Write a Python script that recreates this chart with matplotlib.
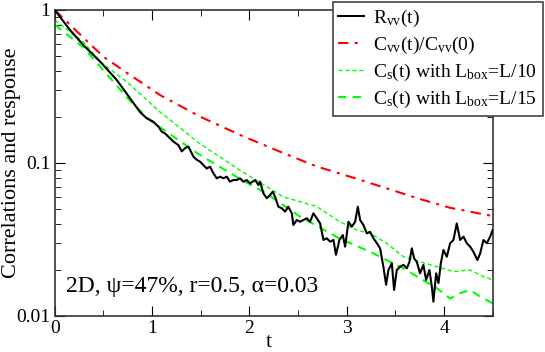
import matplotlib
matplotlib.use("Agg")
import matplotlib.pyplot as plt
from matplotlib.ticker import FixedLocator, LogLocator, NullFormatter

plt.rcParams['font.family'] = ['Liberation Serif', 'DejaVu Serif']
plt.rcParams['mathtext.fontset'] = 'custom'
plt.rcParams['mathtext.rm'] = 'Liberation Serif'
plt.rcParams['mathtext.default'] = 'rm'

# response R_vv(t), noisy
t_resp = [0.0, 0.157, 0.294, 0.466, 0.637, 0.774, 0.877, 0.945, 1.013, 1.065, 1.10, 1.134,
          1.185, 1.219, 1.27, 1.305, 1.339, 1.373, 1.39, 1.425, 1.459, 1.493, 1.527, 1.562,
          1.596, 1.63, 1.665, 1.699, 1.733, 1.768, 1.80, 1.836, 1.87, 1.904, 1.938, 1.973,
          2.007, 2.059, 2.093, 2.11, 2.144, 2.179, 2.213, 2.24, 2.264, 2.298, 2.333, 2.367,
          2.40, 2.436, 2.452, 2.487, 2.521, 2.555, 2.59, 2.624, 2.658, 2.693, 2.727, 2.761,
          2.795, 2.83, 2.864, 2.89, 2.925, 2.96, 2.984, 3.018, 3.052, 3.087, 3.114, 3.138,
          3.172, 3.207, 3.24, 3.275, 3.31, 3.343, 3.377, 3.405, 3.429, 3.464, 3.487, 3.515,
          3.549, 3.583, 3.618, 3.645, 3.669, 3.693, 3.72, 3.754, 3.788, 3.816, 3.85, 3.875,
          3.891, 3.919, 3.943, 3.967, 3.994, 4.029, 4.063, 4.097, 4.131, 4.165, 4.2, 4.234,
          4.268, 4.302, 4.343, 4.371, 4.405, 4.44, 4.474, 4.5]
r_resp = [1.0, 0.74, 0.59, 0.46, 0.349, 0.265, 0.215, 0.196, 0.186, 0.173, 0.160, 0.156,
          0.145, 0.138, 0.131, 0.119, 0.125, 0.128, 0.122, 0.110, 0.105, 0.102, 0.097, 0.092,
          0.0946, 0.0857, 0.0794, 0.0814, 0.0794, 0.0814, 0.0755, 0.0774, 0.0774, 0.0794,
          0.0755, 0.0774, 0.0736, 0.0774, 0.0718, 0.0755, 0.0634, 0.0588, 0.0618, 0.0649,
          0.0602, 0.0518, 0.0506, 0.0481, 0.0518, 0.0469, 0.0393, 0.0424, 0.0413, 0.0424,
          0.0435, 0.0413, 0.0469, 0.0435, 0.0403, 0.0314, 0.0322, 0.0306, 0.0314, 0.0251,
          0.0314, 0.0338, 0.0284, 0.0413, 0.0383, 0.0413, 0.0518, 0.0424, 0.0393, 0.0347,
          0.0355, 0.0322, 0.0299, 0.0277, 0.021, 0.0160, 0.020, 0.0221, 0.0148, 0.020, 0.021,
          0.0216, 0.0205, 0.0226, 0.0277, 0.0238, 0.0226, 0.019, 0.0216, 0.0172, 0.020,
          0.0155, 0.0124, 0.019, 0.0164, 0.0221, 0.027, 0.0244, 0.0299, 0.0314, 0.0403,
          0.0314, 0.033, 0.0299, 0.0284, 0.0263, 0.0232, 0.0256, 0.0314, 0.0299, 0.033, 0.0365]

# C_vv(t)/C_vv(0)
t_cvv = [0.0, 0.294, 0.5, 0.774, 1.082, 1.5, 1.94, 2.35, 2.69, 3.1, 3.72, 4.06, 4.5]
c_cvv = [1.0, 0.66, 0.495, 0.376, 0.278, 0.2, 0.149, 0.116, 0.095, 0.079, 0.059, 0.051, 0.045]

# C_s(t) with L_box = L/10
t_l10 = [0.0, 0.294, 0.466, 0.74, 1.08, 1.49, 1.9, 2.35, 2.69, 2.93, 3.1, 3.24, 3.41, 3.583,
         3.754, 3.926, 4.097, 4.268, 4.405, 4.5]
c_l10 = [0.86, 0.62, 0.459, 0.34, 0.216, 0.134, 0.09, 0.060, 0.052, 0.0413, 0.0365, 0.0347,
         0.0299, 0.0244, 0.0226, 0.021, 0.0195, 0.020, 0.0181, 0.0172]

# C_s(t) with L_box = L/15
t_l15 = [0.0, 0.294, 0.774, 0.98, 1.49, 1.9, 2.18, 2.52, 2.93, 3.24, 3.41, 3.583, 3.754,
         3.926, 4.063, 4.165, 4.268, 4.371, 4.5]
c_l15 = [0.8, 0.57, 0.255, 0.19, 0.113, 0.079, 0.063, 0.0446, 0.032, 0.0263, 0.0232, 0.0205,
         0.0176, 0.0152, 0.0130, 0.0141, 0.0148, 0.0134, 0.0121]

fig = plt.figure(figsize=(5.45, 3.52), dpi=100)
ax = fig.add_axes([0.1004, 0.1023, 0.8036, 0.8693])

ax.plot(t_resp, r_resp, color='black', linewidth=1.5, label=r'R$_{\rm vv}$(t)', zorder=4)
ax.plot(t_cvv, c_cvv, color='red', linewidth=1.5, linestyle=(0, (5, 3, 1.5, 3)),
        label=r'C$_{\rm vv}$(t)/C$_{\rm vv}$(0)')
ax.plot(t_l10, c_l10, color='#00ff00', linewidth=1.0, linestyle=(0, (3, 2)),
        label=r'C$_{\rm s}$(t) with L$_{\rm box}$=L/10')
ax.plot(t_l15, c_l15, color='#00ff00', linewidth=1.5, linestyle=(0, (4, 3)),
        label=r'C$_{\rm s}$(t) with L$_{\rm box}$=L/15')

ax.set_yscale('log')
ax.set_xlim(0, 4.5)
ax.set_ylim(0.01, 1)
ax.xaxis.set_major_locator(FixedLocator([0, 1, 2, 3, 4]))
ax.xaxis.set_minor_locator(FixedLocator([0.5, 1.5, 2.5, 3.5, 4.5]))
ax.set_yticks([0.01, 0.1, 1])
ax.set_yticklabels(['0.01', '0.1', '1'])
ax.yaxis.set_minor_locator(LogLocator(base=10, subs=range(2, 10)))
ax.yaxis.set_minor_formatter(NullFormatter())
ax.tick_params(which='both', direction='in', top=True, right=True, labelsize=14, pad=3)
ax.tick_params(which='major', length=7)
ax.tick_params(which='minor', length=4)
for s in ax.spines.values():
    s.set_linewidth(1.2)
    s.set_color('#333333')

ax.set_xlabel('t', fontsize=16)
ax.xaxis.set_label_coords(0.49, -0.055)
ax.set_ylabel('Correlations and response', fontsize=16)
ax.yaxis.set_label_coords(-0.076, 0.5)

ax.text(0.025, 0.08, '2D, ψ=47%, r=0.5, α=0.03', transform=ax.transAxes, fontsize=17)

leg = ax.legend(loc='upper right', bbox_to_anchor=(1.115, 1.026), fontsize=14,
                handlelength=1.3, handletextpad=0.5, labelspacing=0.3, borderpad=0.3,
                borderaxespad=0, fancybox=False, framealpha=1)
leg.get_frame().set_edgecolor('#444444')
leg.get_frame().set_linewidth(1.2)
leg.set_zorder(10)

plt.savefig('out.png', dpi=100)
plt.close()
